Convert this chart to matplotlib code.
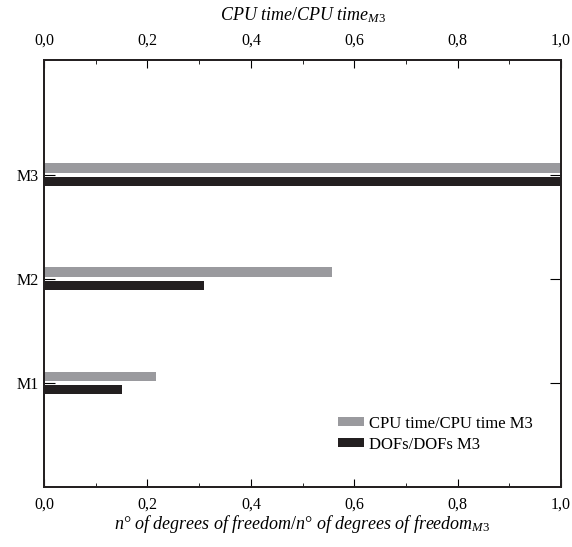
import matplotlib
matplotlib.use("Agg")
from matplotlib import pyplot as plt
from matplotlib.ticker import MultipleLocator, FuncFormatter
import numpy as np

models = ['M1', 'M2', 'M3']
cpu_ratio = [0.216, 0.556, 1.0]
dof_ratio = [0.151, 0.309, 1.0]

plt.rcParams['font.family'] = ['Liberation Serif', 'DejaVu Serif']
plt.rcParams['mathtext.fontset'] = 'custom'
plt.rcParams['mathtext.it'] = 'Liberation Serif:italic'
plt.rcParams['mathtext.rm'] = 'Liberation Serif'

fig = plt.figure(figsize=(5.72, 5.47), dpi=100)
ax = fig.add_axes([0.077, 0.11, 0.904, 0.78])

y = np.arange(1, len(models) + 1)
h = 0.092
ax.barh(y + 0.062, cpu_ratio, height=h, color='#9a9a9e', label='CPU time/CPU time M3')
ax.barh(y - 0.065, dof_ratio, height=h, color='#231f20', label='DOFs/DOFs M3')

ax.set_xlim(0, 1.0)
ax.set_ylim(0, 4.1)
ax.set_yticks(y)
ax.set_yticklabels(models)

fmt = FuncFormatter(lambda v, p: ('%.1f' % v).replace('.', ','))
ax.xaxis.set_major_locator(MultipleLocator(0.2))
ax.xaxis.set_minor_locator(MultipleLocator(0.1))
ax.xaxis.set_major_formatter(fmt)
ax.tick_params(axis='x', which='major', direction='in', length=6, labelsize=11.5, pad=7)
ax.tick_params(axis='x', which='minor', direction='in', length=3)
ax.tick_params(axis='y', which='major', direction='in', length=8, right=True, labelsize=11.5, pad=4)

ax2 = ax.twiny()
ax2.set_xlim(0, 1.0)
ax2.xaxis.set_major_locator(MultipleLocator(0.2))
ax2.xaxis.set_minor_locator(MultipleLocator(0.1))
ax2.xaxis.set_major_formatter(fmt)
ax2.tick_params(axis='x', which='major', direction='in', length=6, labelsize=11.5, pad=8)
ax2.tick_params(axis='x', which='minor', direction='in', length=3)

for a in (ax, ax2):
    for s in a.spines.values():
        s.set_linewidth(1.3)
        s.set_color('#231f20')

ax.set_xlabel(r'$n°\ of\ degrees\ of\ freedom/n°\ of\ degrees\ of\ freedom_{M3}$', fontsize=13, labelpad=0)
ax2.set_xlabel(r'$CPU\ time/CPU\ time_{M3}$', fontsize=13, labelpad=9)

ax.legend(loc='lower right', bbox_to_anchor=(0.975, 0.045), frameon=False, fontsize=12,
          handlelength=1.6, handleheight=0.45, handletextpad=0.3, labelspacing=0.3)

fig.savefig('out.png', dpi=100)
